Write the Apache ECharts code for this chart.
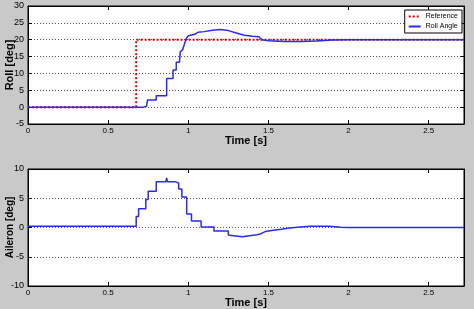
<!DOCTYPE html>
<html>
<head>
<meta charset="utf-8">
<script src="https://cdn.jsdelivr.net/npm/echarts@6/dist/echarts.min.js"></script>
<style>
html,body{margin:0;padding:0;background:#c9c9c9;}
#c{width:474px;height:309px;}
</style>
</head>
<body>
<div id="c"></div>
<script>
// ---- data ----
const xTicks = [0, 0.5, 1, 1.5, 2, 2.5];
const rollTicks = [-5, 0, 5, 10, 15, 20, 25, 30];
const aileronTicks = [-10, -5, 0, 5, 10];

const referenceT = [0, 0.675, 0.675, 2.72];
const referenceV = [0, 0, 20, 20];

const rollT = [0, 0.72, 0.74, 0.745, 0.80, 0.80, 0.865, 0.865, 0.905, 0.905, 0.925, 0.925, 0.945, 0.95, 0.965, 0.972, 0.978, 0.99, 1.0, 1.04, 1.06, 1.10, 1.15, 1.20, 1.25, 1.30, 1.35, 1.40, 1.44, 1.46, 1.50, 1.60, 1.70, 1.80, 1.90, 2.00, 2.72];
const rollV = [0, 0, 0.3, 2.1, 2.1, 3.4, 3.4, 8.5, 8.5, 11.0, 11.0, 13.3, 13.3, 16.5, 17.0, 17.0, 19.0, 20.5, 21.2, 21.6, 22.2, 22.4, 22.8, 23.0, 22.7, 22.0, 21.3, 21.0, 20.9, 20.0, 19.7, 19.5, 19.5, 19.6, 19.9, 20.0, 20.0];

const aileronT = [0, 0.675, 0.675, 0.69, 0.69, 0.735, 0.735, 0.75, 0.75, 0.80, 0.80, 0.86, 0.865, 0.87, 0.92, 0.92, 0.94, 0.94, 0.96, 0.96, 0.99, 0.99, 1.02, 1.02, 1.08, 1.08, 1.16, 1.16, 1.25, 1.25, 1.28, 1.29, 1.34, 1.38, 1.42, 1.45, 1.48, 1.52, 1.58, 1.63, 1.70, 1.76, 1.88, 1.95, 2.00, 2.72];
const aileronV = [0.2, 0.2, 1.9, 1.9, 3.2, 3.2, 4.8, 4.8, 6.2, 6.2, 7.8, 7.8, 8.5, 7.8, 7.8, 7.6, 7.6, 6.6, 6.6, 5.2, 5.2, 2.3, 2.3, 1.1, 1.1, 0.1, 0.1, -0.6, -0.6, -1.3, -1.4, -1.7, -1.6, -1.4, -1.3, -1.1, -0.7, -0.5, -0.3, -0.1, 0.1, 0.2, 0.2, 0.05, 0, 0];

const pairs = (t, v) => t.map((x, i) => [x, v[i]]);

const FONT = 'Liberation Sans, Arial, sans-serif';
const gridLine = {show: true, lineStyle: {color: '#555', type: [1, 2], width: 1}};

function xAx(gi, pos, labels) {
  return {
    type: 'value', gridIndex: gi, position: pos, min: 0, max: 2.72, interval: 0.5,
    axisLine: {show: true, onZero: false, lineStyle: {color: '#000', width: 1}},
    axisTick: {show: true, inside: true, length: 4, lineStyle: {color: '#000'}},
    axisLabel: {show: labels, color: '#000', fontSize: 8, fontFamily: FONT, margin: 3,
      formatter: v => xTicks.includes(v) ? String(v) : ''},
    splitLine: {show: false},
    name: labels ? 'Time [s]' : '', nameLocation: 'middle', nameGap: 11, nameMoveOverlap: false,
    nameTextStyle: {color: '#000', fontSize: 11, fontWeight: 'bold', fontFamily: FONT}
  };
}
function yAx(gi, pos, min, max, labels, name, nameSize) {
  return {
    type: 'value', gridIndex: gi, position: pos, min: min, max: max, interval: 5,
    axisLine: {show: true, onZero: false, lineStyle: {color: '#000', width: 1}},
    axisTick: {show: true, inside: true, length: 4, lineStyle: {color: '#000'}},
    axisLabel: {show: labels, color: '#000', fontSize: 9, fontFamily: FONT, margin: 4},
    splitLine: labels ? gridLine : {show: false},
    name: labels ? name : '', nameLocation: 'middle', nameGap: 13, nameMoveOverlap: false,
    nameTextStyle: {color: '#000', fontSize: nameSize, fontWeight: 'bold', fontFamily: FONT}
  };
}

const chart = echarts.init(document.getElementById('c'), null, {renderer: 'canvas'});
chart.setOption({
  backgroundColor: '#c9c9c9',
  animation: false,
  grid: [
    {left: 28, top: 6, right: 10, height: 118, show: true, backgroundColor: '#fff', borderColor: '#000', borderWidth: 1, containLabel: false, outerBoundsMode: 'none'},
    {left: 28, top: 169, right: 10, height: 117, show: true, backgroundColor: '#fff', borderColor: '#000', borderWidth: 1, containLabel: false, outerBoundsMode: 'none'}
  ],
  xAxis: [xAx(0, 'bottom', true), xAx(0, 'top', false), xAx(1, 'bottom', true), xAx(1, 'top', false)],
  yAxis: [
    yAx(0, 'left', -5, 30, true, 'Roll [deg]', 11), yAx(0, 'right', -5, 30, false, '', 11),
    yAx(1, 'left', -10, 10, true, 'Aileron [deg]', 10), yAx(1, 'right', -10, 10, false, '', 10)
  ],
  legend: {
    show: true, orient: 'vertical', right: 12, top: 10,
    backgroundColor: '#fff', borderColor: '#000', borderWidth: 1,
    padding: [3, 4, 3, 3], itemGap: 3, itemWidth: 12, itemHeight: 4,
    itemStyle: {opacity: 0},
    textStyle: {color: '#000', fontSize: 7, fontFamily: FONT},
    data: ['Reference', 'Roll Angle']
  },
  series: [
    {name: 'Reference', type: 'line', xAxisIndex: 0, yAxisIndex: 0, data: pairs(referenceT, referenceV),
      showSymbol: false, symbol: 'none', lineStyle: {color: '#e00000', width: 2, type: [2, 2]}, itemStyle: {color: '#e00000'}, z: 2},
    {name: 'Roll Angle', type: 'line', xAxisIndex: 0, yAxisIndex: 0, data: pairs(rollT, rollV),
      showSymbol: false, symbol: 'none', lineStyle: {color: '#2a2af0', width: 1.5}, itemStyle: {color: '#2a2af0'}, z: 3},
    {name: 'Aileron', type: 'line', xAxisIndex: 2, yAxisIndex: 2, data: pairs(aileronT, aileronV),
      showSymbol: false, symbol: 'none', lineStyle: {color: '#2a2af0', width: 1.5}, itemStyle: {color: '#2a2af0'}, z: 3}
  ]
});
</script>
</body>
</html>
